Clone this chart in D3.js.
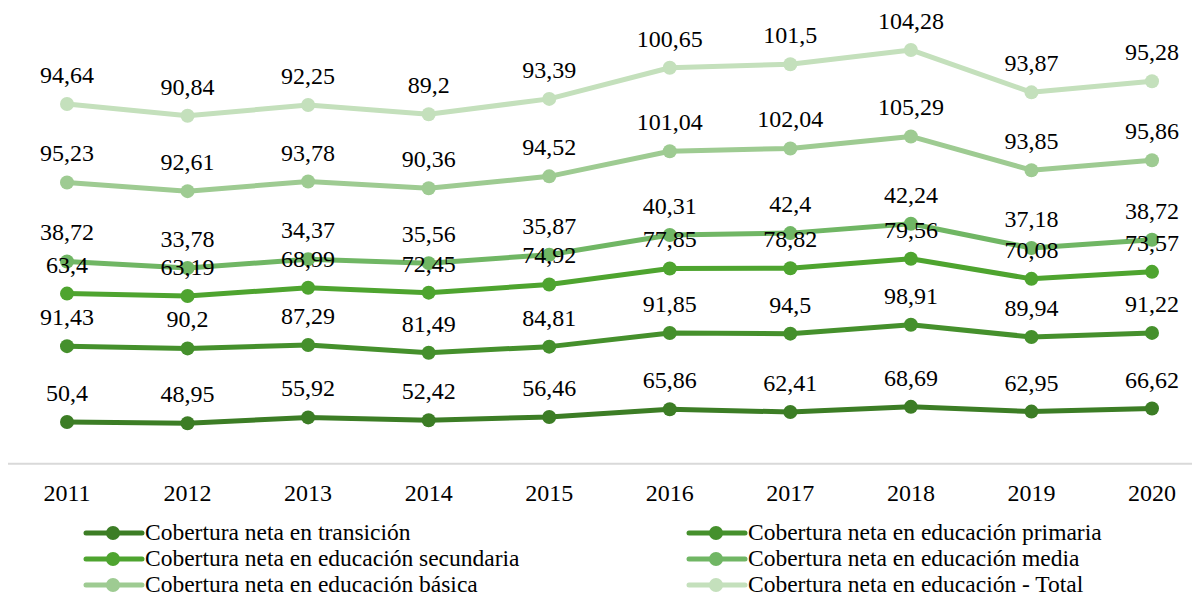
<!DOCTYPE html>
<html>
<head>
<meta charset="utf-8">
<script src="https://cdn.jsdelivr.net/npm/d3@7"></script>
<style>
  body { margin: 0; background: #fff; }
  svg text { font-family: "Liberation Serif", "Times New Roman", Times, serif; fill: #000; }
</style>
</head>
<body>
<svg id="chart" width="1192" height="598"></svg>
<script>
// years on the x axis
var years = ['2011', '2012', '2013', '2014', '2015', '2016', '2017', '2018', '2019', '2020'];

// series values (stacked in the chart)
var transicion = [50.4, 48.95, 55.92, 52.42, 56.46, 65.86, 62.41, 68.69, 62.95, 66.62];
var primaria   = [91.43, 90.2, 87.29, 81.49, 84.81, 91.85, 94.5, 98.91, 89.94, 91.22];
var secundaria = [63.4, 63.19, 68.99, 72.45, 74.92, 77.85, 78.82, 79.56, 70.08, 73.57];
var media      = [38.72, 33.78, 34.37, 35.56, 35.87, 40.31, 42.4, 42.24, 37.18, 38.72];
var basica     = [95.23, 92.61, 93.78, 90.36, 94.52, 101.04, 102.04, 105.29, 93.85, 95.86];
var total      = [94.64, 90.84, 92.25, 89.2, 93.39, 100.65, 101.5, 104.28, 93.87, 95.28];

var seriesNames = [
  'Cobertura neta en transición',
  'Cobertura neta en educación primaria',
  'Cobertura neta en educación secundaria',
  'Cobertura neta en educación media',
  'Cobertura neta en educación básica',
  'Cobertura neta en educación - Total'
];
var colors = ['#3c7d25', '#45902c', '#4ea42f', '#70b664', '#9ecb92', '#c4e0bc'];

var allSeries = [transicion, primaria, secundaria, media, basica, total];
var keys = d3.range(allSeries.length);

var FONT = '"Liberation Serif", "Times New Roman", Times, serif';

// build table for d3.stack
var table = years.map(function (yr, i) {
  var row = { year: yr };
  keys.forEach(function (k) { row[k] = allSeries[k][i]; });
  return row;
});

var stacked = d3.stack().keys(keys)(table);

var svg = d3.select('#chart');

var x = d3.scalePoint().domain(years).range([67, 1152]);
var y = d3.scaleLinear().domain([0, 500]).range([463.8, 49.1]);

// axis baseline
svg.append('line')
  .attr('x1', 8).attr('x2', 1192)
  .attr('y1', y(0)).attr('y2', y(0))
  .attr('stroke', '#d9d9d9')
  .attr('stroke-width', 2);

// year labels
svg.selectAll('.year')
  .data(years)
  .enter().append('text')
  .attr('class', 'year')
  .attr('x', function (d) { return x(d); })
  .attr('y', 501)
  .attr('text-anchor', 'middle')
  .attr('font-family', FONT)
  .style('font-size', '24px')
  .text(function (d) { return d; });

var line = d3.line()
  .x(function (d) { return x(d.data.year); })
  .y(function (d) { return y(d[1]); });

// lines + markers
var groups = svg.selectAll('.serie')
  .data(stacked)
  .enter().append('g')
  .attr('class', 'serie');

groups.append('path')
  .attr('fill', 'none')
  .attr('stroke', function (d) { return colors[d.key]; })
  .attr('stroke-width', 5)
  .attr('stroke-linejoin', 'round')
  .attr('d', line);

groups.selectAll('circle')
  .data(function (d) { return d.map(function (p) { return { p: p, key: d.key }; }); })
  .enter().append('circle')
  .attr('cx', function (d) { return x(d.p.data.year); })
  .attr('cy', function (d) { return y(d.p[1]); })
  .attr('r', 7)
  .attr('fill', function (d) { return colors[d.key]; });

// data labels above points
var fmt = function (v) { return String(v).replace('.', ','); };

stacked.forEach(function (s) {
  svg.selectAll('.lbl' + s.key)
    .data(s)
    .enter().append('text')
    .attr('x', function (d) { return x(d.data.year); })
    .attr('y', function (d) { return y(d[1]) - 21; })
    .attr('text-anchor', 'middle')
    .attr('font-family', FONT)
    .style('font-size', '24px')
    .text(function (d, i) { return fmt(allSeries[s.key][i]); });
});

// legend, two columns
var legend = svg.append('g');
keys.forEach(function (k) {
  var col = k % 2, row = Math.floor(k / 2);
  var g = legend.append('g')
    .attr('transform', 'translate(' + (86 + col * 603) + ',' + (533 + row * 26) + ')');
  g.append('line')
    .attr('x1', 0).attr('x2', 56)
    .attr('stroke', colors[k])
    .attr('stroke-width', 5)
    .attr('stroke-linecap', 'round');
  g.append('circle')
    .attr('cx', 27).attr('r', 7)
    .attr('fill', colors[k]);
  g.append('text')
    .attr('x', 59)
    .attr('y', 7)
    .attr('font-family', FONT)
    .style('font-size', '23.5px')
    .text(seriesNames[k]);
});
</script>
</body>
</html>
